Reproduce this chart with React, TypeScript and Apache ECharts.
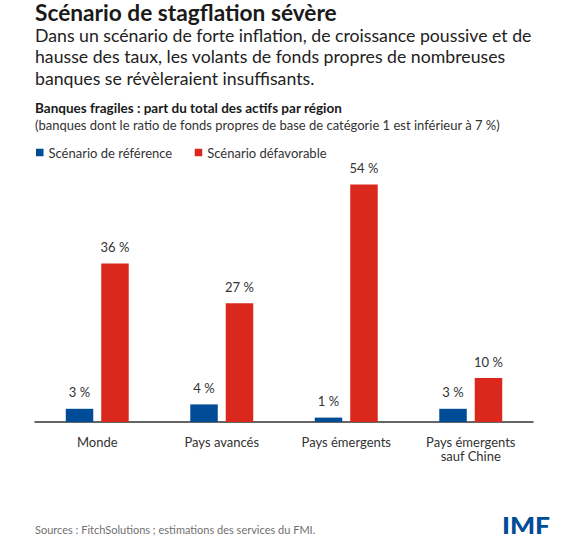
import React, { useEffect, useRef } from "react";
import * as echarts from "echarts";

const categories = ["Monde", "Pays avancés", "Pays émergents", "Pays émergents\nsauf Chine"];
const baselineValues = [3, 4, 1, 3];
const adverseValues = [36, 27, 54, 10];
const seriesNames = ["Scénario de référence", "Scénario défavorable"];

const titleText = "Scénario de stagflation sévère";
const subtitleLines = [
  "Dans un scénario de forte inflation, de croissance poussive et de",
  "hausse des taux, les volants de fonds propres de nombreuses",
  "banques se révèleraient insuffisants.",
];
const chartTitle = "Banques fragiles : part du total des actifs par région";
const chartSubtitle = "(banques dont le ratio de fonds propres de base de catégorie 1 est inférieur à 7 %)";
const sourceText = "Sources : FitchSolutions ; estimations des services du FMI.";

const BLUE = "#004C97";
const RED = "#DA291C";
const FONT = "Lato, 'Noto Sans', sans-serif";

export default function App() {
  const ref = useRef<HTMLDivElement>(null);
  useEffect(() => {
    if (!ref.current) return;
    const chart = echarts.init(ref.current, undefined, { renderer: "svg" });
    const graphics: any[] = [
      {
        type: "text",
        x: 35,
        y: 1,
        style: { text: titleText, font: `bold 22.7px ${FONT}`, fill: "#1a1a1a", textVerticalAlign: "top" },
      },
      ...subtitleLines.map((t, i) => ({
        type: "text",
        x: 35,
        y: 26 + i * 21.7,
        style: { text: t, font: `17.7px ${FONT}`, fill: "#222", textVerticalAlign: "top" },
      })),
      {
        type: "text",
        x: 35,
        y: 100.5,
        style: { text: chartTitle, font: `bold 13.5px ${FONT}`, fill: "#1a1a1a", textVerticalAlign: "top" },
      },
      {
        type: "text",
        x: 35,
        y: 118,
        style: { text: chartSubtitle, font: `13px ${FONT}`, fill: "#333", textVerticalAlign: "top" },
      },
      {
        type: "text",
        x: 35,
        y: 524,
        style: { text: sourceText, font: `11px ${FONT}`, fill: "#707070", textVerticalAlign: "top" },
      },
      {
        type: "text",
        x: 502,
        y: 514,
        scaleX: 1.2,
        style: { text: "IMF", font: `900 22px ${FONT}`, fill: BLUE, textVerticalAlign: "top" },
      },
    ];
    chart.setOption({
      animation: false,
      backgroundColor: "#fff",
      textStyle: { fontFamily: FONT },
      graphic: graphics,
      legend: {
        left: 36,
        top: 146,
        padding: 0,
        icon: "rect",
        itemWidth: 7.5,
        itemHeight: 7.5,
        itemGap: 22.5,
        textStyle: { fontSize: 13, color: "#333", fontFamily: FONT },
        data: seriesNames,
      },
      grid: { left: 35, right: 50, top: 158, bottom: 136, containLabel: false },
      xAxis: {
        type: "category",
        data: categories,
        axisLine: { lineStyle: { color: "#333", width: 1.5 } },
        axisTick: { show: false },
        axisLabel: { fontSize: 13, color: "#333", lineHeight: 14.5, margin: 12.5, interval: 0, fontFamily: FONT },
      },
      yAxis: { type: "value", min: 0, max: 60, show: false, splitLine: { show: false } },
      series: [
        {
          name: seriesNames[0],
          type: "bar",
          data: baselineValues,
          barWidth: 27.5,
          barGap: "29%",
          itemStyle: { color: BLUE },
          label: { show: true, position: "top", distance: 10, formatter: "{c} %", fontSize: 13, color: "#333", fontFamily: FONT },
        },
        {
          name: seriesNames[1],
          type: "bar",
          data: adverseValues,
          barWidth: 27.5,
          itemStyle: { color: RED },
          label: { show: true, position: "top", distance: 10, formatter: "{c} %", fontSize: 13, color: "#333", fontFamily: FONT },
        },
      ],
    });
    return () => chart.dispose();
  }, []);
  return <div ref={ref} style={{ position: "fixed", left: 0, top: 0, width: 583, height: 558 }} />;
}
